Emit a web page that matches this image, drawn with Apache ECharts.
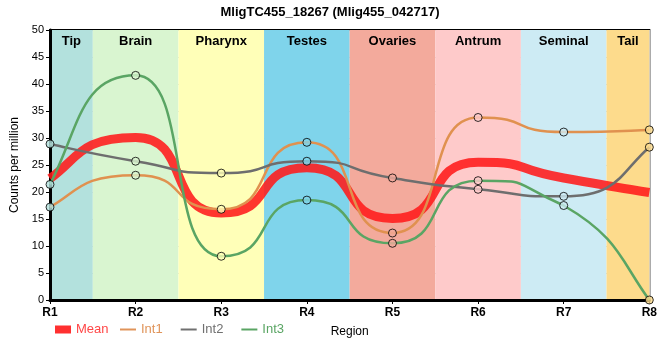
<!DOCTYPE html>
<html><head><meta charset="utf-8">
<script src="https://cdn.jsdelivr.net/npm/echarts@6/dist/echarts.min.js"></script>
<style>html,body{margin:0;padding:0;background:#fff}#c{width:660px;height:360px}</style>
</head><body><div id="c"></div>
<script>
var categories = ['R1','R2','R3','R4','R5','R6','R7','R8'];
var int1 = [17.2, 23.1, 16.8, 29.2, 12.4, 33.8, 31.1, 31.5];
var int2 = [28.9, 25.7, 23.5, 25.7, 22.6, 20.5, 19.2, 28.3];
var int3 = [21.4, 41.6, 8.1, 18.5, 10.5, 22.1, 17.5, 0];
var mean = [22.5, 30.1, 16.1, 24.5, 15.1, 25.5, 22.6, 19.9];
var regions = ['Tip','Brain','Pharynx','Testes','Ovaries','Antrum','Seminal','Tail'];
var regionColors = ['#b3e1dd','#d9f5d0','#ffffb8','#7fd4eb','#f3aa9c','#fecaca','#cdebf4','#fddb8c'];
var yTicks = {min: 0, max: 50, interval: 5};

var seriesDefs = [
  {name:'Mean', values:mean, color:'#ff1a1a', width:9, opacity:0.88, markers:false, legendColor:'#ff3b3b'},
  {name:'Int1', values:int1, color:'#e0914f', width:2.5, opacity:1, markers:true, legendColor:'#e0945a'},
  {name:'Int2', values:int2, color:'#6e6e6e', width:2.5, opacity:1, markers:true, legendColor:'#707070'},
  {name:'Int3', values:int3, color:'#5aa564', width:2.5, opacity:1, markers:true, legendColor:'#5aa564'}
];

function pts(arr){ return arr.map(function(v,i){ return [i+1, v]; }); }

// monotone cubic path through pixel points obtained from api.coord
var HANDLE = 0.65;
function sign(x){ return x < 0 ? -1 : 1; }
function clamp(v, a, b){ var lo = Math.min(a,b), hi = Math.max(a,b); return Math.max(lo, Math.min(hi, v)); }
function monotonePath(p){
  var n = p.length, t = new Array(n), i;
  for (i = 1; i < n-1; i++) {
    var h0 = p[i][0]-p[i-1][0], h1 = p[i+1][0]-p[i][0];
    var s0 = (p[i][1]-p[i-1][1])/h0, s1 = (p[i+1][1]-p[i][1])/h1;
    var pp = (s0*h1 + s1*h0)/(h0+h1);
    t[i] = (sign(s0)+sign(s1)) * Math.min(Math.abs(s0), Math.abs(s1), 0.5*Math.abs(pp)) || 0;
  }
  function slope2(a, b, tt){ var h = b[0]-a[0]; return h ? (3*(b[1]-a[1])/h - tt)/2 : tt; }
  t[0] = slope2(p[0], p[1], t[1]);
  t[n-1] = slope2(p[n-2], p[n-1], t[n-2]);
  var d = 'M' + p[0][0] + ' ' + p[0][1];
  for (i = 0; i < n-1; i++) {
    var dx = (p[i+1][0]-p[i][0])*HANDLE;
    var dx0 = dx, dx1 = dx;
    if (i === 0) dx0 = (p[1][0]-p[0][0])/3;
    if (i === n-2) dx1 = (p[n-1][0]-p[n-2][0])/3;
    var c0y = clamp(p[i][1]+dx0*t[i], p[i][1], p[i+1][1]);
    var c1y = clamp(p[i+1][1]-dx1*t[i+1], p[i][1], p[i+1][1]);
    d += ' C' + (p[i][0]+dx0) + ' ' + c0y + ' ' +
         (p[i+1][0]-dx1) + ' ' + c1y + ' ' + p[i+1][0] + ' ' + p[i+1][1];
  }
  return d;
}

var bands = regions.map(function(name,i){
  return [{name: name, xAxis: Math.max(1, i+0.5), itemStyle:{color: regionColors[i], opacity:1}},
          {xAxis: Math.min(8, i+1.5)}];
});

var ff = 'Liberation Sans, Arial, sans-serif';
var series = [
  {type:'line', name:'bands', data:[], z:0, silent:true,
    markArea:{silent:true, data:bands,
      label:{show:true, position:'insideTop', distance:5, color:'#000', fontSize:13, fontWeight:'bold', fontFamily: ff}}}
];
seriesDefs.forEach(function(s, k){
  series.push({
    type:'custom', name:s.name, data:pts(s.values), z: 3 + (k === 0 ? 0 : 1), silent:true,
    itemStyle:{color:s.legendColor},
    renderItem:function(params, api){
      if (params.dataIndex !== 0) return null;
      var p = s.values.map(function(v,i){ return api.coord([i+1, v]); });
      return {type:'path', shape:{pathData: monotonePath(p)},
        style:{fill:null, stroke:s.color, lineWidth:s.width, opacity:s.opacity, lineJoin:'round'}};
    }
  });
  if (s.markers) {
    series.push({
      type:'scatter', name:s.name + '_pts', data:pts(s.values), symbol:'circle', symbolSize:8, z:6, silent:true,
      itemStyle:{borderColor:'#000', borderWidth:1,
        color:function(p){ return regionColors[p.dataIndex]; }}
    });
  }
});

var chart = echarts.init(document.getElementById('c'), null, {renderer:'canvas'});
chart.setOption({
  animation:false,
  textStyle:{fontFamily: ff},
  title:{text:'MligTC455_18267 (Mlig455_042717)', left:'center', top:1,
    textStyle:{fontSize:13, fontWeight:'bold', color:'#000', fontFamily: ff}},
  grid:{left:50, right:10, top:30, bottom:60, show:true, borderColor:'#000', borderWidth:2, z:0},
  legend:[{
    left:50, top:318, itemWidth:16, itemHeight:8, itemGap:12,
    data:[{name:'Mean', icon:'rect', itemStyle:{color:'#ff3030', borderWidth:0}, textStyle:{color:'#ff4646'}}],
    textStyle:{fontSize:13, fontFamily: ff}
  },{
    left:115, top:318, itemWidth:16, itemHeight:2, itemGap:18,
    data:seriesDefs.slice(1).map(function(s){
      return {name:s.name, icon:'rect', itemStyle:{color:s.legendColor, borderWidth:0}, textStyle:{color:s.legendColor}};
    }),
    textStyle:{fontSize:13, fontFamily: ff}
  }],
  xAxis:{type:'value', min:1, max:8, interval:1, z:1,
    name:'Region', nameLocation:'middle', nameGap:26,
    nameTextStyle:{fontSize:12, color:'#000', fontFamily: ff},
    axisLine:{lineStyle:{color:'#000', width:3}},
    axisTick:{show:true, length:4, lineStyle:{color:'#000', width:1}},
    axisLabel:{color:'#000', fontSize:12, fontWeight:'bold', margin:7, fontFamily: ff,
      formatter:function(v){ return categories[v-1] || ''; }},
    splitLine:{show:true, lineStyle:{color:'#c8c8c8', width:1}}
  },
  yAxis:{type:'value', min:yTicks.min, max:yTicks.max, interval:yTicks.interval, z:1,
    name:'Counts per million', nameLocation:'middle', nameGap:24,
    nameTextStyle:{fontSize:12, color:'#000', fontFamily: ff},
    axisLine:{show:true, lineStyle:{color:'#000', width:3}},
    axisTick:{show:true, length:4, lineStyle:{color:'#000', width:1}},
    axisLabel:{color:'#000', fontSize:11, margin:6, fontFamily: ff},
    splitLine:{show:true, lineStyle:{color:'#c8c8c8', width:1}}
  },
  series:series
});
</script></body></html>
